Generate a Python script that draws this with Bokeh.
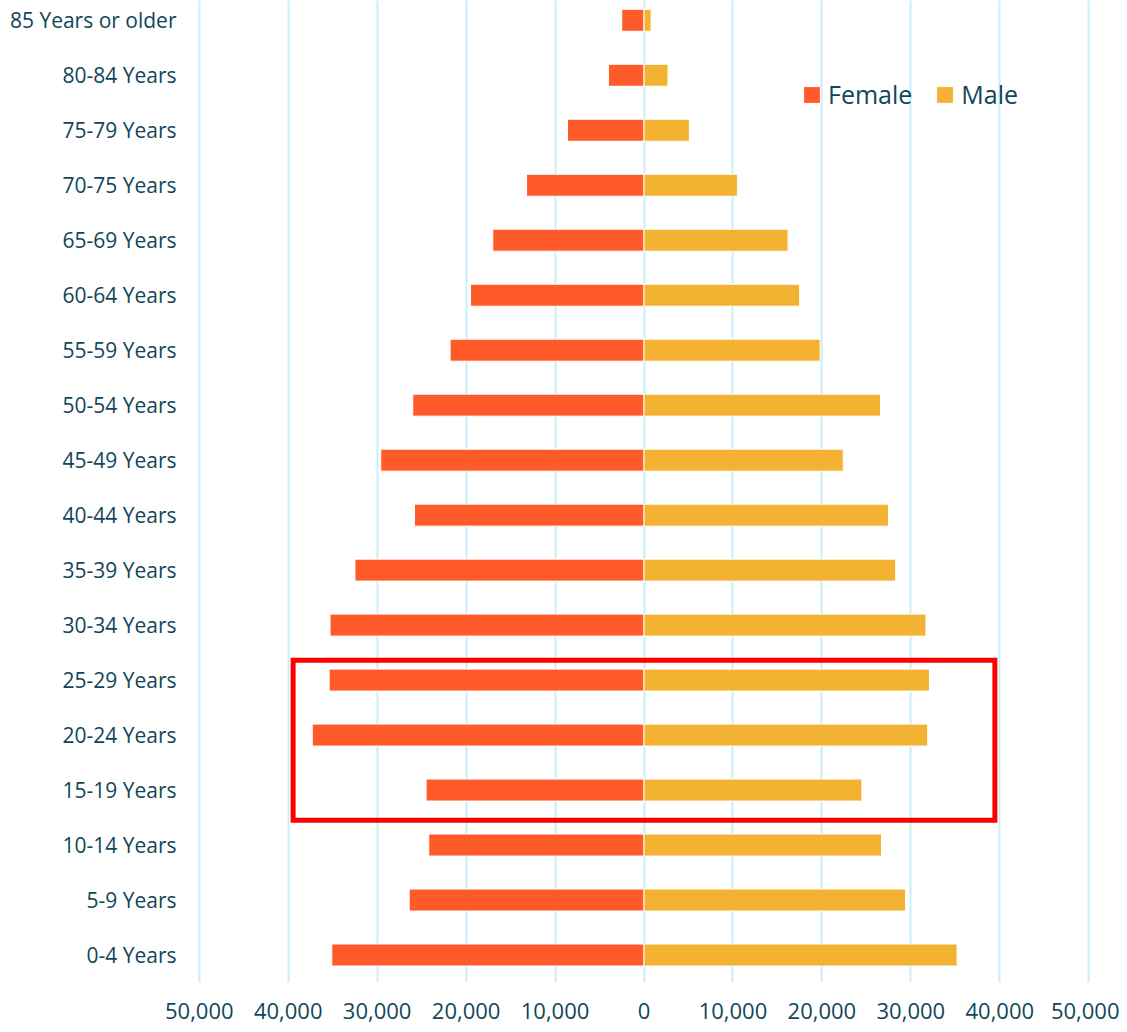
from bokeh.plotting import figure
from bokeh.models import (ColumnDataSource, FixedTicker, Range1d, Legend, LegendItem,
                          BoxAnnotation)
from bokeh.embed import file_html
from bokeh.resources import INLINE

# ---- data ----
ages = ["0-4 Years", "5-9 Years", "10-14 Years", "15-19 Years", "20-24 Years",
        "25-29 Years", "30-34 Years", "35-39 Years", "40-44 Years", "45-49 Years",
        "50-54 Years", "55-59 Years", "60-64 Years", "65-69 Years", "70-75 Years",
        "75-79 Years", "80-84 Years", "85 Years or older"]
female = [35100, 26400, 24200, 24500, 37300, 35400, 35300, 32500, 25800, 29600,
          26000, 21800, 19500, 17000, 13200, 8600, 4000, 2500]
male = [35200, 29400, 26700, 24500, 31900, 32100, 31700, 28300, 27500, 22400,
        26600, 19800, 17500, 16200, 10500, 5100, 2700, 800]
x_ticks = [-50000, -40000, -30000, -20000, -10000, 0, 10000, 20000, 30000, 40000, 50000]
x_tick_labels = ["50,000", "40,000", "30,000", "20,000", "10,000", "0",
                 "10,000", "20,000", "30,000", "40,000", "50,000"]
highlight_first = "15-19 Years"
highlight_last = "25-29 Years"
highlight_extent = 39450

FEMALE_C = "#FF5A2A"
MALE_C = "#F3B231"
TEXT_C = "#114659"
GRID_C = "#C8EEF9"
FONT = "Open Sans"

idx = list(range(len(ages)))
src = ColumnDataSource(dict(y=idx, female=[-v for v in female], male=male, age=ages))

p = figure(width=1119, height=1032, output_backend="svg", toolbar_location=None,
           x_range=Range1d(-50200, 50200), y_range=Range1d(-0.5, len(ages) - 1 + 0.36),
           min_border_left=197, min_border_right=29, min_border_top=0, min_border_bottom=50)
p.outline_line_color = None
p.background_fill_color = "white"

rf = p.hbar(y="y", left="female", right=0, height=0.4, source=src,
            fill_color=FEMALE_C, line_color="white", line_width=1)
rm = p.hbar(y="y", left=0, right="male", height=0.4, source=src,
            fill_color=MALE_C, line_color="white", line_width=1)

# highlight box around selected age groups
i0 = ages.index(highlight_first)
i1 = ages.index(highlight_last)
box = BoxAnnotation(left=-highlight_extent, right=highlight_extent,
                    bottom=i0 - 0.55, top=i1 + 0.36,
                    fill_color=None, fill_alpha=0, line_color="#FF0000",
                    line_alpha=1.0, line_width=5, line_join="miter")
p.add_layout(box)

# axes
p.xaxis.ticker = FixedTicker(ticks=x_ticks)
p.xaxis.major_label_overrides = {t: l for t, l in zip(x_ticks, x_tick_labels)}
p.yaxis.ticker = FixedTicker(ticks=idx)
p.yaxis.major_label_overrides = {i: a for i, a in zip(idx, ages)}
for ax in (p.xaxis[0], p.yaxis[0]):
    ax.axis_line_color = None
    ax.major_tick_line_color = None
    ax.minor_tick_line_color = None
    ax.major_tick_out = 0
    ax.major_tick_in = 0
    ax.major_label_text_font = FONT
    ax.major_label_text_color = TEXT_C
p.xaxis.major_label_text_font_size = "22px"
p.yaxis.major_label_text_font_size = "21px"
p.xaxis.major_label_standoff = 20
p.yaxis.major_label_standoff = 21

p.xgrid.grid_line_color = GRID_C
p.xgrid.grid_line_width = 2
p.ygrid.grid_line_color = None

legend = Legend(items=[LegendItem(label="Female", renderers=[rf]),
                       LegendItem(label="Male", renderers=[rm])],
                orientation="horizontal", location=(604, 871),
                glyph_width=21, glyph_height=21, label_standoff=6, spacing=22,
                padding=0, margin=0, border_line_color=None,
                background_fill_alpha=0,
                label_text_font=FONT, label_text_font_size="25px",
                label_text_color=TEXT_C)
p.add_layout(legend)

open("out.html", "w").write(file_html(p, INLINE))
